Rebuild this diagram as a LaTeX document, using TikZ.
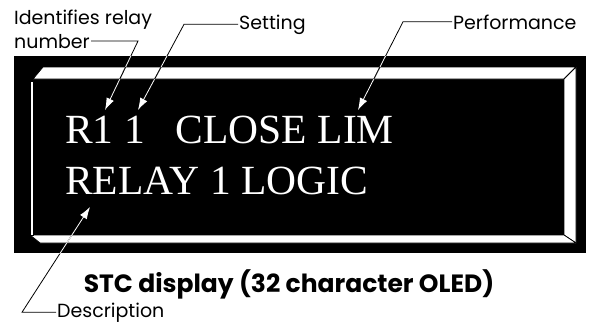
\documentclass[tikz,border=0pt]{standalone}
\usepackage{fontspec}
\setmainfont{Liberation Serif}
\newfontfamily\lblfont{Poppins}
\usetikzlibrary{arrows.meta}

\tikzset{
  lbl/.style={font=\lblfont\fontsize{19}{22}\selectfont, inner sep=1pt},
  lcd/.style={font=\fontsize{41.5}{42}\selectfont, text=white, inner sep=0pt, anchor=base west},
  face/.style={fill=white, draw=black, line width=0.8pt},
  leader/.style={line width=0.8pt, arrows={-{Latex[width=8pt,length=12pt]}}}
}

\newcommand\leaderlines[1]{%
  \draw[leader,#1] (numlbl.east) -- (numlbl.east -| bendR) -- (tipR);
  \draw[leader,#1] (setlbl.west) -- (setlbl.west -| bendS) -- (tipS);
  \draw[leader,#1] (perflbl.west) -- (perflbl.west -| bendP) -- (tipP);
  \draw[leader,#1] (desclbl.west) -- (desclbl.west -| bendD) -- (tipD);
}

\begin{document}
\begin{tikzpicture}[x=1pt, y=-1pt]
\useasboundingbox (0,0) rectangle (589,325);

\fill[black] (14,56) rectangle (586,253);
\path[face] (43,67) -- (576,67) -- (564,79) -- (33,79) -- cycle;
\path[face] (576,67) -- (576,243) -- (564,235) -- (564,79) -- cycle;
\path[face] (30,235) -- (564,235) -- (576,243) -- (40,243) -- cycle;
\path[face] (30,81) -- (33,81) -- (33,235) -- (30,235) -- cycle;

\node[lcd] (line1) at (65,143) {R1 1\ \ \ CLOSE LIM};
\node[lcd] (line2) at (65,194) {RELAY 1 LOGIC};

\node[lbl, anchor=base west] (idlbl) at (13,24) {Identifies relay};
\node[lbl, anchor=base west] (numlbl) at (13,48) {number};
\node[lbl, anchor=base west] (setlbl) at (238,29) {Setting};
\node[lbl, anchor=base west] (perflbl) at (452,29) {Performance};
\node[lbl, anchor=base west] (desclbl) at (56,317) {Description};
\node[font=\lblfont\bfseries\fontsize{25}{28}\selectfont, anchor=base] (caption) at (289,292) {STC display (32 character OLED)};

\coordinate (bendR) at (138,42);
\coordinate (bendS) at (184,23);
\coordinate (bendP) at (403,24);
\coordinate (bendD) at (22,312);
\coordinate (tipR) at (105,110);
\coordinate (tipS) at (138,110);
\coordinate (tipP) at (358,110);
\coordinate (tipD) at (90,207);

\leaderlines{black}
\begin{scope}
  \clip (14,56) rectangle (586,253);
  \leaderlines{white}
\end{scope}
\begin{scope}
  \clip (43,67) -- (576,67) -- (564,79) -- (33,79) -- cycle
        (576,67) -- (576,243) -- (564,235) -- (564,79) -- cycle;
  \leaderlines{black}
\end{scope}
\end{tikzpicture}
\end{document}
